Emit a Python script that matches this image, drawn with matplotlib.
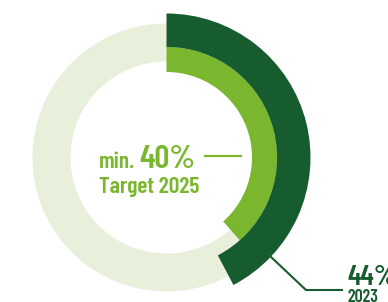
import matplotlib.pyplot as plt

share_2023 = 44
target_2025 = 40
label_target = ["min.", "40%", "Target 2025"]
label_actual = ["44%", "2023"]

dark = "#165c2e"
light = "#7ab72f"
pale = "#e8f0dc"

plt.rcParams['font.family'] = ['Barlow Condensed', 'DejaVu Sans']

fig = plt.figure(figsize=(3.88, 3.02), dpi=100)
ax = fig.add_axes([0, 0, 1, 1])
cx, cy = 166.5, 302 - 157.5
full = 104  # the arcs in the original run a little short of a true 100 %

# background ring
ax.pie([100], radius=134, center=(cx, cy), colors=[pale],
       wedgeprops=dict(width=38, linewidth=0))
# target ring
ax.pie([target_2025, full - target_2025], radius=110.5, center=(cx, cy),
       startangle=90, counterclock=False, colors=[light, "none"],
       wedgeprops=dict(width=25, linewidth=0))
# actual ring
ax.pie([share_2023, full - share_2023], radius=144, center=(cx, cy),
       startangle=90, counterclock=False, colors=[dark, "none"],
       wedgeprops=dict(width=33.5, linewidth=0))

ax.set_xlim(0, 388)
ax.set_ylim(0, 302)
ax.set_aspect('equal')
ax.axis('off')

# target label
ax.text(99, 302 - 168, label_target[0], color=light, fontsize=17,
        fontweight=600, ha='left', va='baseline')
ax.text(139, 302 - 168, label_target[1], color=light, fontsize=24,
        fontweight=600, ha='left', va='baseline')
ax.text(99, 302 - 193, label_target[2], color=light, fontsize=17,
        fontweight=600, ha='left', va='baseline')
ax.plot([205, 241], [302 - 156, 302 - 156], color=light, lw=1.6)

# actual label
ax.plot([271, 306, 342], [302 - 257, 302 - 290, 302 - 290], color=dark, lw=1.5)
ax.text(347, 302 - 285, label_actual[0], color=dark, fontsize=21,
        fontweight=600, ha='left', va='baseline')
ax.text(347, 302 - 302, label_actual[1], color=dark, fontsize=13,
        fontweight=600, ha='left', va='baseline')

fig.savefig("out.png", dpi=100)
